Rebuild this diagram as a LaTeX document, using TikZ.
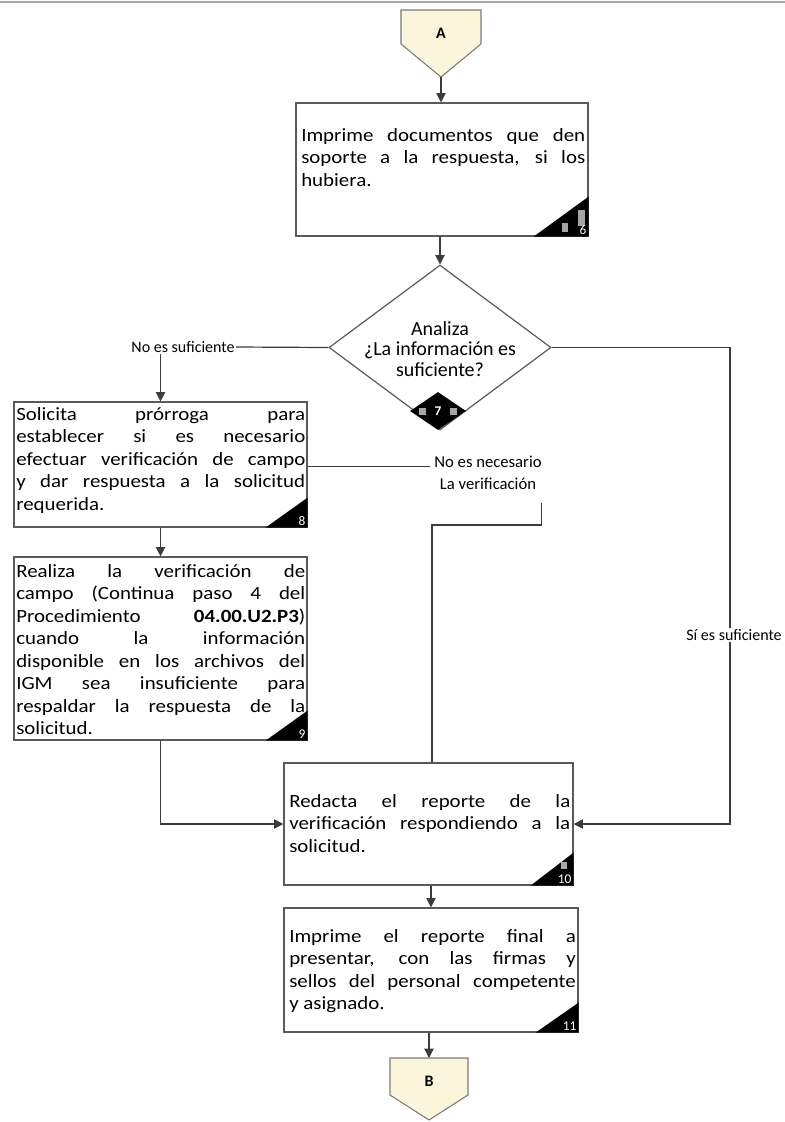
\documentclass[tikz,border=0pt]{standalone}
\usepackage{fontspec}
\setmainfont{Carlito}
\newfontfamily\bodyfont{Carlito}[FakeStretch=1.12]
\usetikzlibrary{shapes.geometric,arrows.meta,fit,calc}
\definecolor{edge}{HTML}{5A5A5A}
\definecolor{cream}{HTML}{FBF5DC}
\definecolor{wire}{HTML}{3C3C3C}
% one justified line that fills the current text width
\newcommand\J[1]{\makebox[\hsize][s]{#1}}

\begin{document}
\begin{tikzpicture}[x=0.75pt,y=-0.75pt,
  stepbox/.style={draw=edge, line width=0.9pt, inner sep=0pt},
  body/.style={anchor=north west, inner sep=0pt, align=justify,
    font=\bodyfont\fontsize{14}{16.9}\selectfont},
  wire/.style={draw=wire, line width=0.9pt},
  arr/.style={wire, -{Triangle[length=7pt,width=7pt]}},
  corner/.style={fill=black},
  speck/.style={fill=gray!70},
  stepno/.style={text=white, font=\fontsize{10}{11}\selectfont,
    anchor=south east, inner sep=1.5pt},
  lbl/.style={inner sep=1pt, font=\fontsize{12}{13}\selectfont},
  offpage/.style={draw=edge!80, fill=cream, line width=0.8pt},
  letter/.style={font=\bfseries\fontsize{12}{12}\selectfont},
]
\useasboundingbox (0,0) rectangle (785,1122);
\draw[gray!70, line width=1pt] (0,2) -- (785,2);

% off-page connector A
\draw[offpage] (401,10) -- (481,10) -- (481,44) -- (441,77) -- (401,44) -- cycle;
\node[letter] (A) at (441,33) {A};
\coordinate (Atip) at (441,77);

% step 6
\node[stepbox, fit={(296,103) (588,236)}] (b6) {};
\node[body, text width=213pt] (t6) at (301,128)
  {\J{Imprime documentos que den}\\\J{soporte a la respuesta, si los}\\hubiera.};
\fill[corner] (b6.south east) -- ++(-55,0) -- ++(55,-40) -- cycle;
\fill[speck] (562,223) rectangle (568,232);
\fill[speck] (578,210) rectangle (585,226);
\node[stepno] (n6) at (b6.south east) {6};

% decision 7
\node[diamond, draw=edge, line width=0.9pt, minimum width=166.5pt,
  minimum height=123.75pt, inner sep=0pt] (d7) at (440,347.5) {};
\node[align=center, font=\fontsize{15}{15.5}\selectfont] (q7) at (440,349)
  {Analiza\\¿La información es\\suficiente?};
\node[diamond, fill=black, minimum width=42pt, minimum height=28.5pt,
  inner sep=0pt] (k7) at (438,411) {};
\fill[speck] (419,408) rectangle (426,415);
\fill[speck] (450,408) rectangle (457,415);
\node[text=white, font=\bfseries\fontsize{10}{11}\selectfont] (n7) at (k7) {7};

% step 8
\node[stepbox, fit={(14,402) (307,527)}] (b8) {};
\node[body, text width=216.75pt] (t8) at (16,407)
  {\J{Solicita prórroga para}\\\J{establecer si es necesario}\\
   \J{efectuar verificación de campo}\\\J{y dar respuesta a la solicitud}\\
   requerida.};
\fill[corner] (b8.south east) -- ++(-42,0) -- ++(42,-30) -- cycle;
\node[stepno] (n8) at (b8.south east) {8};

% step 9
\node[stepbox, fit={(14,557) (307,740)}] (b9) {};
\node[body, text width=216.75pt] (t9) at (16,564)
  {\J{Realiza la verificación de}\\\J{campo (Continua paso 4 del}\\
   \J{Procedimiento \textbf{04.00.U2.P3})}\\\J{cuando la información}\\
   \J{disponible en los archivos del}\\\J{IGM sea insuficiente para}\\
   \J{respaldar la respuesta de la}\\solicitud.};
\fill[corner] (b9.south east) -- ++(-42,0) -- ++(42,-30) -- cycle;
\node[stepno] (n9) at (b9.south east) {9};

% step 10
\node[stepbox, fit={(284,763) (573,885)}] (b10) {};
\node[body, text width=210.75pt] (t10) at (289,794)
  {\J{Redacta el reporte de la}\\\J{verificación respondiendo a la}\\solicitud.};
\fill[corner] (b10.south east) -- ++(-43,0) -- ++(43,-33) -- cycle;
\fill[speck] (561,862) rectangle (567,869);
\node[stepno] (n10) at (b10.south east) {10};

% step 11
\node[stepbox, fit={(284,908) (578,1032)}] (b11) {};
\node[body, text width=215pt] (t11) at (289,929)
  {\J{Imprime el reporte final a}\\\J{presentar, con las firmas y}\\
   \J{sellos del personal competente}\\y asignado.};
\fill[corner] (b11.south east) -- ++(-43,0) -- ++(43,-30) -- cycle;
\node[stepno] (n11) at (b11.south east) {11};

% off-page connector B
\draw[offpage] (390,1058) -- (468,1058) -- (468,1095) -- (429,1120) -- (390,1095) -- cycle;
\node[letter] (B) at (429,1081) {B};
\coordinate (Btop) at (429,1058);

% branch labels
\node[lbl] (lns) at (183,347) {No es suficiente};
\node[align=center, font=\fontsize{12.5}{16.5}\selectfont] (lnn) at (488,473)
  {No es necesario\\La verificación};
\coordinate (jn) at (432,525);

% connectors
\draw[arr] (Atip) -- (Atip |- b6.north);
\draw[arr] (b6.south -| d7.north) -- (d7.north);
\draw[wire] (d7.west) -- (lns.east);
\draw[arr] (lns.south -| b8.north) -- (b8.north);
\draw[arr] (b8.south) -- (b9.north);
\draw[wire] ([yshift=-1.2pt]b8.east) -- ([yshift=-1.2pt]b8.east -| lnn.west);
\draw[wire] ($(lnn.south east)+(-5,8)$) |- (jn) -- (jn |- b10.north);
\draw[arr] (b9.south) |- (b10.west);
\draw[arr] (d7.east) -| (730,635) |- (b10.east);
\draw[arr] (b10.south -| b11.north) -- (b11.north);
\draw[arr] (b11.south -| Btop) -- (Btop);
\node[lbl, fill=white] (lsi) at (734,635) {Sí es suficiente};
\end{tikzpicture}
\end{document}
